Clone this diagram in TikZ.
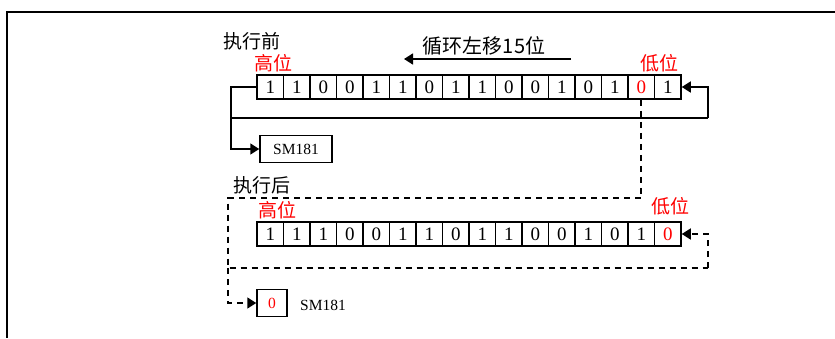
\documentclass[tikz,border=0pt]{standalone}
\usepackage{fontspec}
\setmainfont{Liberation Serif}
\newfontfamily\cjk{Noto Sans CJK SC}
\usetikzlibrary{arrows.meta,positioning}

\begin{document}
\begin{tikzpicture}[
  x=1pt, y=-1pt,
  every node/.style={inner sep=0pt},
  cell/.style={draw, line width=1.5pt, minimum width=26.5pt, minimum height=24pt,
    font=\fontsize{19}{19}\selectfont},
  smbox/.style={draw, line width=1.5pt, minimum width=72pt, minimum height=27pt,
    font=\fontsize{15.5}{15.5}\selectfont},
  zerobox/.style={draw, line width=1.5pt, minimum width=30pt, minimum height=27pt,
    font=\fontsize{15.5}{15.5}\selectfont},
  title/.style={font=\cjk\fontsize{19}{19}\selectfont},
  bitlabel/.style={font=\cjk\fontsize{19}{19}\selectfont, red},
  loop/.style={line width=1.6pt},
  arr/.style={-{Triangle[length=9pt,width=11pt]}, line width=1.6pt},
  darr/.style={-{Triangle[length=9pt,width=11pt]}, line width=1.6pt,
    dash pattern=on 6pt off 5pt},
  dline/.style={line width=1.6pt, dash pattern=on 6pt off 5pt},
  frame/.style={line width=2.2pt}
]
\useasboundingbox (0,0) rectangle (835,338);

% Outer frame, open at right and bottom.
\coordinate (frTR) at (835,12);
\coordinate (frTL) at (7,12);
\coordinate (frBL) at (7,338);
\draw[frame] (frTR) -- (frTL) -- (frBL);

% Before execution.
\node[title] (before) at (252,41) {执行前};
\node[bitlabel] (hiA) at (273,63) {高位};
\node[bitlabel] (loA) at (659,63) {低位};
\node[title, font=\cjk\fontsize{20}{20}\selectfont] (shift) at (484,46) {循环左移15位};
\coordinate (shR) at (571,59);
\coordinate (shL) at (404,59);
\draw[arr] (shR) -- (shL);

\foreach \v [count=\i] in {1,1,0,0,1,1,0,1,1,0,0,1,0,1,{\textcolor{red}{0}},1}
  \node[cell] (b\i) at ({257+26.5*(\i-0.5)},87) {\v};

\node[smbox] (sm) at (296,149) {SM181};

\coordinate (loopL) at (231,118);
\coordinate (loopR) at (708,118);
\draw[loop] (b1.west) -| (loopL) -- (loopR);
\draw[arr] (loopR) |- (b16.east);
\draw[arr] (loopL) |- (sm.west);

% After execution.
\node[title] (after) at (262,185) {执行后};
\node[bitlabel] (hiB) at (277,210) {高位};
\node[bitlabel] (loB) at (670,206) {低位};

\foreach \v [count=\i] in {1,1,1,0,0,1,1,0,1,1,0,0,1,0,1,{\textcolor{red}{0}}}
  \node[cell] (a\i) at ({257+26.5*(\i-0.5)},234) {\v};

\node[zerobox, text=red] (zero) at (272,303) {0};
\node[font=\fontsize{15.5}{15.5}\selectfont, anchor=west] (smlbl) at (300,305) {SM181};

\coordinate (dTL) at (228,198);
\coordinate (dML) at (228,268);
\coordinate (dMR) at (708,268);
\draw[dline] (b15.south) |- (dTL) -- (dML) -- (dMR);
\draw[darr] (dMR) |- (a16.east);
\draw[darr] (dML) |- (zero.west);
\end{tikzpicture}
\end{document}
